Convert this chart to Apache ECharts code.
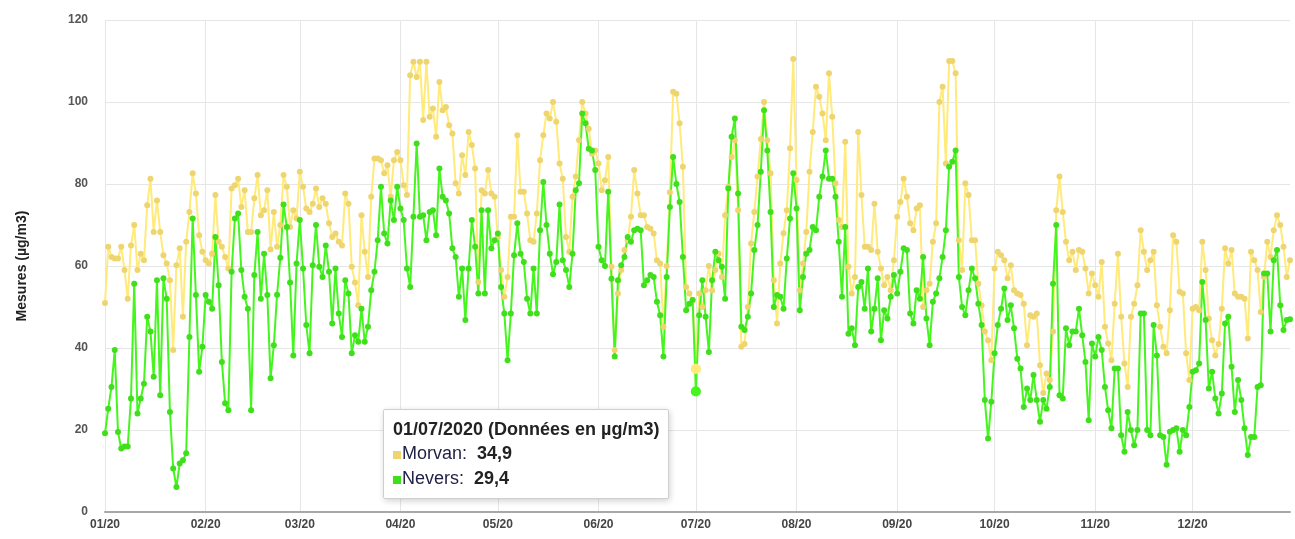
<!DOCTYPE html>
<html>
<head>
<meta charset="utf-8">
<script src="https://cdn.jsdelivr.net/npm/echarts@6/dist/echarts.min.js"></script>
<style>
html,body{margin:0;padding:0;background:#fff;}
#chart{width:1295px;height:539px;}
</style>
</head>
<body>
<div id="chart"></div>
<script>
// Categories: every day of 2020
const dates = [];
for (let d = new Date(Date.UTC(2020, 0, 1)); d.getUTCFullYear() === 2020; d.setUTCDate(d.getUTCDate() + 1)) {
  dates.push(d.toISOString().slice(0, 10));
}
const yTicks = [0, 20, 40, 60, 80, 100, 120];

// Morvan (µg/m3), daily
const morvan = [
  // Jan
  51,64.7,62.2,61.8,61.8,64.7,59,52,65,70,59,63,61.4,74.8,81.3,68.3,76,68.3,62.6,60.6,56.5,39.5,60.2,64.3,47.6,65.9,73.2,82.6,77.7,67.5,63.5,
  // Feb
  61.4,60.6,63,77.3,65.9,64.7,62.2,59.4,78.9,79.7,81.3,74.4,78.5,68.3,68.3,76.5,82.2,72.4,73.6,78.5,64,73.2,64.7,70,82.2,79.3,69.5,73.6,71.6,
  // Mar
  83,79.3,74,73.2,75.2,78.9,74.4,76.5,75.2,70.4,67.1,67.9,65.9,65,77.7,75.2,59.8,56,50.4,72.4,63.5,57.3,76.9,86.2,86.2,85.8,82.6,84.6,76.9,85.8,87.8,
  // Apr
  85.8,79.7,77.3,106.5,109.8,106.1,109.8,95.6,109.8,96.4,98.4,91.5,104.9,98,98.8,94.3,92.3,80.2,77.7,87,82.2,92.7,89.5,83.8,56.1,78.5,77.7,83.4,77.7,76.9,
  // May
  67.1,59,52.5,57.3,72,72,91.9,78.1,78.1,72.8,66.3,65.9,72.8,85.8,91.9,97.2,96,100,95.2,85,81.3,67.1,63.5,76.9,81.8,90.7,100,97.2,93.5,87.4,88.2,
  // Jun
  85,78.5,80.9,86.6,59.8,39.5,53.3,59,63.9,66.3,72,83.4,77.7,72.4,72.4,69.5,69.1,67.9,61.4,60.6,45.2,60,78,102.5,102,94.8,84.2,54.9,53.3,51.7,
  // Jul
  34.9,53.3,50,54.1,60,54,59,63,57.3,72.4,79.3,86.6,90.7,73.6,40.3,41,50,65.5,73.2,81.8,91,100,90.7,82.6,56.5,46,60.6,68,73.6,88.7,110.5,
  // Aug
  81,54.1,60.6,68.3,83,92.7,103.7,101.3,97.2,90.7,107,96.4,80.2,71.2,69.5,90.3,59.8,53.3,57.3,92.7,77.3,64.7,64.7,63.9,75.2,63.5,59.4,55.3,57.3,54.1,61.4,
  // Sep
  72,75.6,81.3,76.9,70.4,68.7,74,74.8,50,54.1,55.7,65.9,70.4,100,103.7,85,110,110,107,66.3,59,80.2,77.3,66.3,66.3,55.7,50.4,44,41.9,37,
  // Oct
  59.4,63.5,62.6,61.4,57,60.2,54.1,53.3,52.9,50.8,40.7,48,47.6,48.4,35.8,29,33.8,32.2,44,73.6,81.8,73.2,65.9,61.4,63.5,59,63.9,63.5,59.4,53.3,58.2,
  // Nov
  55.3,52.5,61,45.2,41.1,37,50.8,63,47.6,36.2,30.5,47.6,50.8,55.3,68.7,63.5,59,61.4,63.5,50.4,45.2,40.3,38.7,49.2,67.5,65.9,53.7,53.3,38.7,32.2,
  // Dec
  49.6,50,49.2,65.9,59,47.2,41.9,38.2,41,49.6,64.3,60.6,63.9,53.3,52.5,52.5,52,42.3,63.5,61.4,59,48.8,57.3,65.9,62.2,68.7,72.4,70,64.7,57.3,61.4
];

// Nevers (µg/m3), daily
const nevers = [
  // Jan
  19.2,25.2,30.5,39.5,19.5,15.5,16,16,27.7,55.7,24,27.7,31.3,47.6,44,33,56.5,28.5,57,52,24.4,10.6,6.1,11.8,12.6,14.3,42.7,71.6,52.9,34.2,40.3,
  // Feb
  52.9,51.3,49.6,67.1,55.3,36.6,26.5,24.8,58.6,71.6,72.8,59,52.5,49.6,24.8,57.8,68.3,52,63,52.9,32.6,40.7,53,62,75,69.5,56,38.2,60.6,
  // Mar
  71.2,59.4,45.6,38.7,60.2,70,59.8,57.3,65,58.6,46,59.4,48.4,42.7,56.5,53.3,38.7,43.1,41.5,49.6,41.5,45.2,54.1,58.6,66.3,79.3,67.9,65.5,76,71.2,79.3,
  // Apr
  74,71.2,59.4,54.9,72,89.9,72,72.4,66.3,73.2,73.6,67.5,83.8,76.9,76,72.8,64.3,62.2,52.5,59.4,46.8,59.4,71.2,64.7,53.3,73.6,53.3,73.6,64.3,66.3,
  // May
  67.9,54.9,48.4,37,48.4,62.6,70.4,63,61,52,48.4,59.4,48.4,68.7,80.5,70,63,58,61,75,61.4,59,54.9,63,78.5,80.2,97.2,94.8,88.6,88.2,83.4,
  // Jun
  64.7,61.4,60,78.1,56.9,37.9,56.5,60.2,62.2,67.1,65.9,68.7,69.1,68.7,55.3,56.5,57.8,57.3,51.3,48,37.9,57.3,74.4,86.6,80,75.6,62.2,49.2,50.8,51.7,
  // Jul
  29.4,48,56.5,47.6,39,56.5,63.5,61.4,59.8,52,78.9,91.5,96,77.7,45.2,44.4,47.6,53.3,63.9,70,83,98,88.2,73.2,50,52.9,52.5,49.6,61.8,71.6,82.6,
  // Aug
  74,49.2,57.3,63,63.9,69.5,68.7,76.9,81.8,88.2,81.3,81.3,76.9,65.9,52.5,69.5,43.5,44.8,40.7,54.9,56.1,49.6,59.4,44,49.6,57,41.9,49.2,47.2,52.5,57.8,
  // Sep
  53.3,58.6,64.3,63.9,48.4,46,54.1,52,62.2,47.2,40.7,51.3,53.3,57,62.2,68.7,84.2,85.4,88.2,57.3,50,48,54.1,59.4,57,50.8,45.6,27.3,17.9,26.9,
  // Oct
  38.7,45.6,49.6,54.5,46.8,50.4,44.8,37.4,35,25.6,30.1,27.3,33.4,27.3,22,27.3,25.2,30.5,55.7,70,28.5,27.7,44.8,40.7,44,44,49.6,43.1,36.6,22.4,41.1,
  // Nov
  37.9,42.7,39.5,30.5,24.8,20.4,35,35,18.7,14.7,24.4,20,16.3,20,48.4,48.4,20,18.7,45.6,38.2,18.7,18.3,11.5,19.6,20,20.4,14.7,20,18.7,25.6,
  // Dec
  34.2,34.6,36.2,56.1,46.8,30.1,34.2,27.7,24,28.9,46,47.6,35.4,24.4,32.2,27.3,20.4,13.9,18.3,18.3,30.5,30.9,58.2,58.2,44,61.4,63.9,50.4,44.4,46.8,47
];

const tipIndex = dates.indexOf('2020-07-01');
const YELLOW = '#eed56f';
const GREEN = '#3fdf1c';
const FONT = "Arial, 'Liberation Sans', sans-serif";

const isMonthStart = (idx, val) => val.slice(8, 10) === '01';
const fmtNum = v => v.toFixed(1).replace('.', ',');

const chart = echarts.init(document.getElementById('chart'), null, {renderer: 'canvas'});
chart.setOption({
  animation: false,
  backgroundColor: '#fff',
  grid: {left: 105, right: 5, top: 20, bottom: 27},
  xAxis: {
    type: 'category',
    data: dates,
    boundaryGap: false,
    axisLine: {lineStyle: {color: '#a8a8a8', width: 2}},
    axisTick: {show: false},
    axisLabel: {
      interval: isMonthStart,
      formatter: v => v.slice(5, 7) + '/' + v.slice(2, 4),
      color: '#444', fontWeight: 'bold', fontSize: 12, fontFamily: FONT, margin: 7
    },
    splitLine: {show: true, interval: isMonthStart, lineStyle: {color: '#e6e6e6', width: 1}}
  },
  yAxis: {
    type: 'value',
    min: yTicks[0], max: yTicks[yTicks.length - 1], interval: 20,
    name: 'Mesures (µg/m3)',
    nameLocation: 'middle', nameGap: 76,
    nameTextStyle: {color: '#222', fontSize: 14, fontWeight: 'bold', fontFamily: FONT},
    axisLine: {show: false},
    axisTick: {show: false},
    axisLabel: {color: '#555', fontWeight: 'bold', fontSize: 12, fontFamily: FONT, margin: 17},
    splitLine: {lineStyle: {color: '#e6e6e6', width: 1}}
  },
  tooltip: {
    trigger: 'axis',
    triggerOn: 'none',
    alwaysShowContent: true,
    position: [383, 409],
    backgroundColor: '#fff',
    borderColor: '#cfcfcf',
    borderWidth: 1,
    borderRadius: 2,
    padding: [7, 9],
    extraCssText: 'box-shadow: 1px 2px 6px rgba(0,0,0,0.18);',
    axisPointer: {type: 'line', lineStyle: {color: 'rgba(0,0,0,0)'}},
    formatter: params => {
      const v = params[0].axisValue;
      const d = v.slice(8, 10) + '/' + v.slice(5, 7) + '/' + v.slice(0, 4);
      let html = '<div style="font:bold 18px ' + FONT + ';color:#222;line-height:24px;white-space:nowrap">' + d + ' (Données en µg/m3)</div>';
      params.forEach(p => {
        html += '<div style="font:18px ' + FONT + ';line-height:25px;white-space:nowrap">' +
          '<span style="display:inline-block;width:8px;height:8px;background:' + p.color + ';margin-right:1px;vertical-align:0px"></span>' +
          '<span style="color:#1f1f45">' + p.seriesName + ':</span>&nbsp;&nbsp;<b style="color:#222">' + fmtNum(p.value) + '</b></div>';
      });
      return html;
    }
  },
  series: [
    {
      name: 'Morvan', type: 'line', data: morvan,
      symbol: 'circle', symbolSize: 6, showAllSymbol: true,
      itemStyle: {color: YELLOW},
      lineStyle: {color: YELLOW, width: 2},
      emphasis: {scale: 1.7}
    },
    {
      name: 'Nevers', type: 'line', data: nevers,
      symbol: 'circle', symbolSize: 6, showAllSymbol: true,
      itemStyle: {color: GREEN},
      lineStyle: {color: GREEN, width: 2},
      emphasis: {scale: 1.7}
    }
  ]
});
chart.dispatchAction({type: 'showTip', seriesIndex: 0, dataIndex: tipIndex});
</script>
</body>
</html>
